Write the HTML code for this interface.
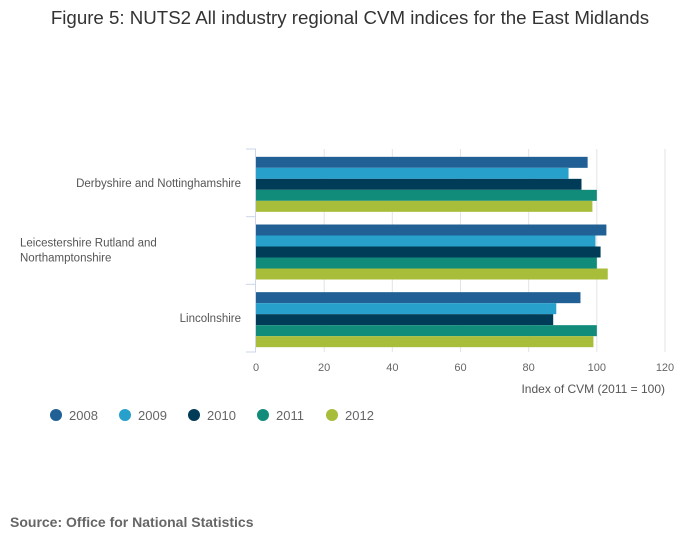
<!DOCTYPE html>
<html><head><meta charset="utf-8"><style>
body{margin:0;background:#fff;font-family:"Liberation Sans",sans-serif;}
svg text{font-family:"Liberation Sans",sans-serif;}
</style></head><body>
<svg width="700" height="549" xmlns="http://www.w3.org/2000/svg">
<text x="350" y="24" text-anchor="middle" font-size="18.7" fill="#333">Figure 5: NUTS2 All industry regional CVM indices for the East Midlands</text>
<g id="grid"></g><g id="bars"></g><g id="axes"></g><g id="legend"></g>
<text x="665" y="393" text-anchor="end" font-size="12" fill="#555">Index of CVM (2011 = 100)</text>
<text x="10" y="527" font-size="14" font-weight="bold" fill="#666">Source: Office for National Statistics</text>
</svg>
<script>
const categories = [["Derbyshire and Nottinghamshire"],["Leicestershire Rutland and","Northamptonshire"],["Lincolnshire"]];
const years = ["2008","2009","2010","2011","2012"];
const s2008 = [97.3, 102.8, 95.2];
const s2009 = [91.7, 99.6, 88.1];
const s2010 = [95.5, 101.1, 87.2];
const s2011 = [100, 100, 100];
const s2012 = [98.7, 103.2, 99.0];
const ticks = [0,20,40,60,80,100,120];
const series=[s2008,s2009,s2010,s2011,s2012];
const colors=["#206095","#27a0cc","#003c57","#118c7b","#a8bd3a"];
const NS="http://www.w3.org/2000/svg";
const x0=256,x1=665,yTop=149,yBottom=352,band=(yBottom-yTop)/categories.length;
const xs=v=>x0+(v-0)/(120-0)*(x1-x0);
function mk(t,a,p){const e=document.createElementNS(NS,t);for(const k in a)e.setAttribute(k,a[k]);p.appendChild(e);return e;}
const grid=document.getElementById('grid'),bars=document.getElementById('bars'),axes=document.getElementById('axes'),leg=document.getElementById('legend');
ticks.forEach(t=>{
 if(t>0){const l=mk('line',{x1:xs(t),x2:xs(t),y1:yTop,y2:yBottom,stroke:'#e3e3e3','stroke-width':1},grid);
 
 }
 const tx=mk('text',{x:xs(t),y:371,'text-anchor':'middle','font-size':11,fill:'#666'},axes);tx.textContent=t;
 
 
});
const ax=mk('line',{x1:255.5,x2:255.5,y1:yTop,y2:yBottom,stroke:'#ccd6eb'},axes);


for(let i=0;i<=categories.length;i++){const y=yTop+i*band;mk('line',{x1:246,x2:256,y1:y,y2:y,stroke:'#ccd6eb'},axes);}
const bh=11;
categories.forEach((c,i)=>{
 const y0=yTop+i*band+(band-bh*5)/2+1.5;
 series.forEach((s,j)=>{
  const r=mk('rect',{x:x0,y:y0+j*bh,width:xs(s[i])-x0,height:bh,fill:colors[j]},bars);
  
  
 });
 const cy=yTop+i*band+band/2;
 const tx=mk('text',{x:c.length>1?20:241,y:cy+4-(c.length-1)*8,'text-anchor':c.length>1?'start':'end','font-size':11.5,fill:'#555'},axes);
 c.forEach((ln,k)=>{const ts=mk('tspan',{x:c.length>1?20:241,dy:k?15:0},tx);ts.textContent=ln;});
 
 
});
years.forEach((yr,j)=>{
 const lx=56+j*69;
 const g=mk('g',{},leg);
 
 
 mk('circle',{cx:lx,cy:415,r:6,fill:colors[j]},g);
 const t=mk('text',{x:lx+13,y:420,'font-size':13,fill:'#666'},g);t.textContent=yr;
});
</script>
</body></html>
